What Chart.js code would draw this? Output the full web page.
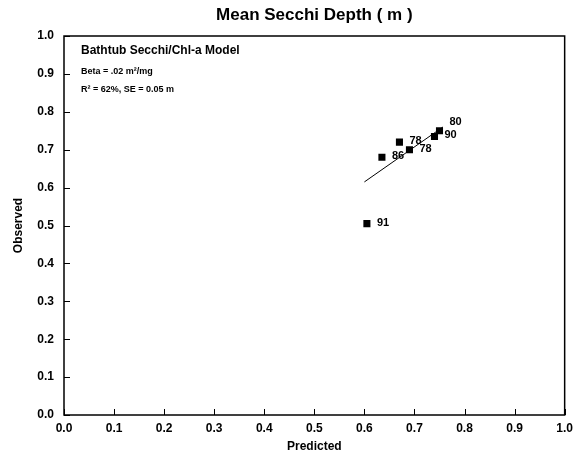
<!DOCTYPE html>
<html>
<head>
<meta charset="utf-8">
<script src="https://cdn.jsdelivr.net/npm/chart.js@4/dist/chart.umd.min.js"></script>
<style>
  html, body { margin: 0; padding: 0; background: #fff; }
  canvas { display: block; }
</style>
</head>
<body>
<canvas id="secchiChart" width="579" height="455"></canvas>
<script>
// Observed vs predicted mean Secchi depth (m), one point per year
const years = ["86", "78", "78", "90", "80", "91"];
const predicted = [0.635, 0.67, 0.69, 0.74, 0.75, 0.605];
const observed = [0.68, 0.72, 0.70, 0.735, 0.75, 0.505];

// Fitted line end points
const fitPredicted = [0.60, 0.757];
const fitObserved = [0.615, 0.76];

const notes = ["Bathtub Secchi/Chl-a Model", "Beta = .02 m\u00b2/mg", "R\u00b2 = 62%, SE = 0.05 m"];

const FONT = "'Liberation Sans', Arial, sans-serif";
Chart.defaults.color = "#000";
Chart.defaults.font.family = FONT;

// Draws the box, inward ticks, year labels and the model notes
const frame = {
    id: "frame",
    afterDraw(chart) {
        const { ctx, chartArea: a, scales: { x, y } } = chart;
        ctx.save();
        ctx.strokeStyle = "#000";
        ctx.lineWidth = 1.5;
        ctx.strokeRect(a.left, a.top, a.right - a.left, a.bottom - a.top);

        ctx.lineWidth = 1;
        ctx.beginPath();
        x.ticks.forEach(t => {
            const px = Math.round(x.getPixelForValue(t.value)) + 0.5;
            ctx.moveTo(px, a.bottom);
            ctx.lineTo(px, a.bottom - 6);
        });
        y.ticks.forEach(t => {
            const py = Math.round(y.getPixelForValue(t.value)) + 0.5;
            ctx.moveTo(a.left, py);
            ctx.lineTo(a.left + 6, py);
        });
        ctx.stroke();

        // year labels next to each point
        ctx.fillStyle = "#000";
        ctx.font = "bold 11px " + FONT;
        ctx.textAlign = "left";
        ctx.textBaseline = "middle";
        chart.getDatasetMeta(0).data.forEach((pt, i) => {
            const dy = years[i] === "80" ? -9 : -1;
            ctx.fillText(years[i], pt.x + 10, pt.y + dy);
        });

        // model notes in the upper left corner
        ctx.font = "bold 12px " + FONT;
        ctx.fillText(notes[0], a.left + 17, a.top + 15);
        ctx.font = "bold 9px " + FONT;
        ctx.fillText(notes[1], a.left + 17, a.top + 36);
        ctx.fillText(notes[2], a.left + 17, a.top + 54);
        ctx.restore();
    }
};

const ctx = document.getElementById("secchiChart").getContext("2d");
new Chart(ctx, {
    type: "scatter",
    data: {
        datasets: [{
            label: "Observed",
            data: predicted.map((p, i) => ({ x: p, y: observed[i] })),
            pointStyle: "rect",
            pointRadius: 5,
            backgroundColor: "#000",
            borderColor: "#000",
            borderWidth: 0,
        }, {
            type: "line",
            label: "Fit",
            data: fitPredicted.map((p, i) => ({ x: p, y: fitObserved[i] })),
            borderColor: "#000",
            borderWidth: 1,
            pointRadius: 0,
            fill: false,
        }],
    },
    options: {
        responsive: false,
        animation: false,
        layout: { padding: { left: 0, right: 13, top: 0, bottom: 0 } },
        plugins: {
            legend: { display: false },
            tooltip: { enabled: false },
            title: {
                display: true,
                text: "Mean Secchi Depth ( m )",
                fullSize: false,
                font: { size: 17, weight: "bold", family: FONT },
                padding: { top: 5, bottom: 10.6 },
            },
        },
        scales: {
            x: {
                type: "linear",
                min: 0,
                max: 1,
                ticks: {
                    stepSize: 0.1,
                    padding: 6,
                    font: { size: 12, weight: "bold" },
                    callback: v => v.toFixed(1),
                },
                grid: { display: false, drawTicks: false },
                border: { display: false },
                title: {
                    display: true,
                    text: "Predicted",
                    font: { size: 12, weight: "bold" },
                    padding: { top: 0, bottom: 1 },
                },
                afterFit: s => { s.height = 40; },
            },
            y: {
                type: "linear",
                min: 0,
                max: 1,
                ticks: {
                    stepSize: 0.1,
                    padding: 10,
                    font: { size: 12, weight: "bold" },
                    callback: v => v.toFixed(1),
                },
                grid: { display: false, drawTicks: false },
                border: { display: false },
                title: {
                    display: true,
                    text: "Observed",
                    font: { size: 12, weight: "bold" },
                    padding: { top: 11, bottom: 0 },
                },
                afterFit: s => { s.width = 64; },
            },
        },
    },
    plugins: [frame],
});
</script>
</body>
</html>
